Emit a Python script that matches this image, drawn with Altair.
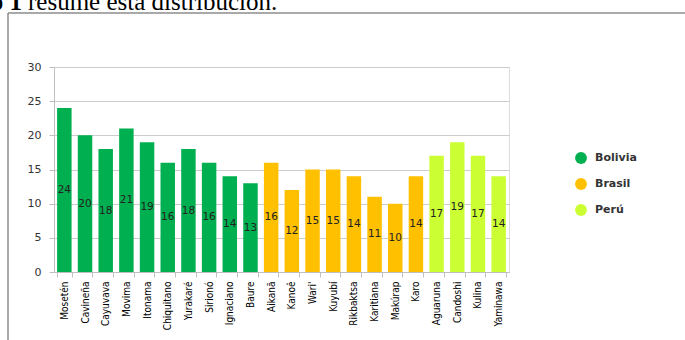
import altair as alt
import pandas as pd

languages = ["Mosetén", "Cavineña", "Cayuvava", "Movima", "Itonama", "Chiquitano",
             "Yurakaré", "Sirionó", "Ignaciano", "Baure",
             "Aikanã", "Kanoê", "Wari'", "Kuyubí", "Rikbaktsa", "Karitiana", "Makúrap", "Karo",
             "Aguaruna", "Candoshi", "Kulina", "Yaminawa"]
values = [24, 20, 18, 21, 19, 16, 18, 16, 14, 13,
          16, 12, 15, 15, 14, 11, 10, 14,
          17, 19, 17, 14]
countries = ["Bolivia"] * 10 + ["Brasil"] * 8 + ["Perú"] * 4
country_domain = ["Bolivia", "Brasil", "Perú"]
country_colors = ["#00B050", "#FFC000", "#CCFF33"]
y_ticks = [0, 5, 10, 15, 20, 25, 30]

df = pd.DataFrame({"lang": languages, "val": values, "country": countries})
df["half"] = df["val"] / 2

x_axis = alt.Axis(labelAngle=-90, labelFont="DejaVu Sans Condensed", labelFontSize=10,
                  labelColor="#000000", domainColor="#bfbfbf", tickColor="#bfbfbf",
                  tickBand="extent", tickSize=5, labelPadding=4)
y_axis = alt.Axis(values=y_ticks, labelFont="DejaVu Sans",
                  labelFontSize=11, labelColor="#333333", domainColor="#bfbfbf",
                  tickColor="#bfbfbf", tickSize=5, labelPadding=8,
                  gridColor="#cccccc")
x_scale = alt.Scale(paddingInner=0.3, paddingOuter=0.15)
y_scale = alt.Scale(domain=[0, 30])

bars = alt.Chart(df).mark_bar().encode(
    x=alt.X("lang:N", sort=languages, title=None, scale=x_scale, axis=x_axis),
    y=alt.Y("val:Q", title=None, scale=y_scale, axis=y_axis),
    color=alt.Color("country:N", title=None,
                    scale=alt.Scale(domain=country_domain, range=country_colors),
                    legend=alt.Legend(orient="none", legendX=521, legendY=85, symbolType="circle",
                                      symbolSize=140, symbolStrokeWidth=0, labelFont="DejaVu Sans",
                                      labelFontSize=11, labelFontWeight="bold", labelColor="#333333",
                                      rowPadding=14, labelOffset=8, padding=0)),
)

labels = alt.Chart(df).mark_text(font="DejaVu Sans", fontSize=10.5, color="#222222").encode(
    x=alt.X("lang:N", sort=languages, title=None, scale=x_scale, axis=x_axis),
    y=alt.Y("half:Q", title=None, scale=y_scale, axis=y_axis),
    text=alt.Text("val:Q"),
)

one = alt.Data(values=[{}])
frame_v = alt.Chart(one).mark_rule(color="#8c8c8c", strokeWidth=1.5).encode(
    x=alt.value(-46), y=alt.value(-54), y2=alt.value(280))
frame_h = alt.Chart(one).mark_rule(color="#8c8c8c", strokeWidth=1.5).encode(
    x=alt.value(-46), x2=alt.value(640), y=alt.value(-54))
head_bold = alt.Chart(one).mark_text(text="o 1", font="Liberation Serif", fontSize=25,
                                     fontWeight="bold", align="right", baseline="alphabetic",
                                     color="#000000").encode(x=alt.value(-32), y=alt.value(-57))
head_reg = alt.Chart(one).mark_text(text="resume esta distribución.", font="Liberation Serif",
                                    fontSize=25, align="left", baseline="alphabetic",
                                    color="#000000").encode(x=alt.value(-26), y=alt.value(-57))

chart = alt.layer(bars, labels, frame_v, frame_h, head_bold, head_reg).properties(
    width=455, height=205,
    autosize=alt.AutoSizeParams(type="none"),
    padding={"left": 54, "top": 67, "right": 176, "bottom": 68},
).configure_view(stroke=None).configure(background="white")

chart.save("out.html", embed_options={"renderer": "svg", "actions": False})
